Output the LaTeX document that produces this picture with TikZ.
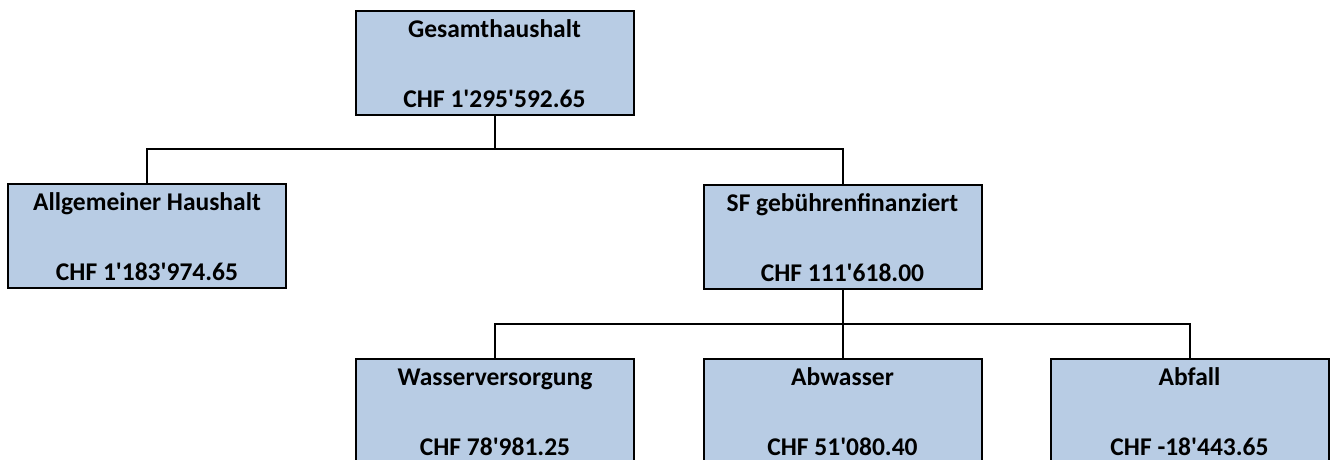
\documentclass[tikz,border=0pt]{standalone}
\usepackage{fontspec}
\setmainfont{Carlito}
\usetikzlibrary{calc}
\definecolor{boxfill}{HTML}{B8CCE4}
\newcommand\q{\textquotesingle}
\tikzset{
  orgbox/.style={draw=black, line width=2pt, fill=boxfill, minimum width=278pt, minimum height=104pt, inner sep=0pt, outer sep=0pt, anchor=north},
  orgtext/.style={anchor=base, inner sep=0pt, font=\fontsize{25.5}{30}\selectfont\bfseries},
  conn/.style={draw=black, line width=2pt}
}
\newcommand\orgnode[5]{%
  \node[orgbox] (#1) at (#2,#3) {};
  \node[orgtext] (#1t) at ($(#1.north)+(0,26)$) {#4};
  \node[orgtext] (#1v) at ($(#1.north)+(0,96)$) {#5};
}
\begin{document}
\begin{tikzpicture}[x=1pt,y=-1pt]
\useasboundingbox (0,0) rectangle (1336,459);
\clip (0,0) rectangle (1336,459);
\orgnode{G}{494.5}{11}{Gesamthaushalt}{CHF 1\q295\q592.65}
\orgnode{A}{147}{184}{Allgemeiner Haushalt}{CHF 1\q183\q974.65}
\orgnode{S}{842.5}{185}{SF gebührenfinanziert}{CHF 111\q618.00}
\orgnode{W}{495}{359}{Wasserversorgung}{CHF 78\q981.25}
\orgnode{B}{842.5}{359}{Abwasser}{CHF 51\q080.40}
\orgnode{F}{1189.5}{359}{Abfall}{CHF -18\q443.65}
\coordinate (j1) at ($(G.south)+(0,34)$);
\coordinate (j2) at ($(S.south)+(0,35)$);
\draw[conn] (G.south) -- (j1);
\draw[conn] (A.north) |- (j1) -| (S.north);
\draw[conn] (S.south) -- (j2);
\draw[conn] (W.north) |- (j2) -| (F.north);
\draw[conn] (j2) -- (B.north);
\end{tikzpicture}
\end{document}
